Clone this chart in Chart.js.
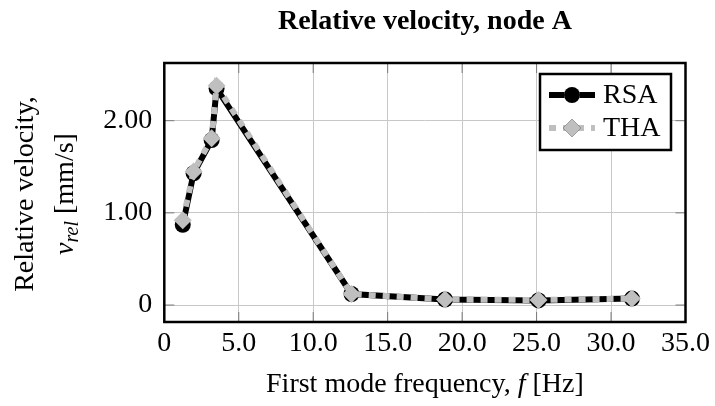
<!DOCTYPE html>
<html>
<head>
<meta charset="utf-8">
<script src="https://cdn.jsdelivr.net/npm/chart.js@4.4.1/dist/chart.umd.min.js"></script>
<style>
  html, body { margin: 0; padding: 0; background: #ffffff; }
  #wrap { width: 715px; height: 406px; }
</style>
</head>
<body>
<div id="wrap"><canvas id="c" width="715" height="406"></canvas></div>
<script>
// ---- data ----
const frequencies = [1.24, 1.97, 3.18, 3.51, 12.57, 18.85, 25.13, 31.4];
const rsaValues   = [0.87, 1.43, 1.79, 2.35, 0.12, 0.06, 0.05, 0.07];
const thaValues   = [0.92, 1.45, 1.81, 2.38, 0.12, 0.06, 0.055, 0.07];
const seriesNames = ['RSA', 'THA'];
const xTickValues = [0, 5, 10, 15, 20, 25, 30, 35];
const xTickLabels = ['0', '5.0', '10.0', '15.0', '20.0', '25.0', '30.0', '35.0'];
const yTickValues = [0, 1, 2];
const yTickLabels = ['0', '1.00', '2.00'];
const chartTitle = 'Relative velocity, node A';

const SERIF = "'Liberation Serif', 'Times New Roman', serif";
const FS = 28;

function toPoints(xs, ys) { return xs.map((x, i) => ({ x: x, y: ys[i] })); }

const decoPlugin = {
  id: 'deco',
  beforeDatasetsDraw(chart) {
    const { ctx, chartArea: a, scales: { x, y } } = chart;
    ctx.save();
    ctx.strokeStyle = '#7a7a7a';
    ctx.lineWidth = 1;
    ctx.beginPath();
    x.ticks.forEach(t => {
      const px = x.getPixelForValue(t.value);
      ctx.moveTo(px, a.bottom); ctx.lineTo(px, a.bottom - 10);
      ctx.moveTo(px, a.top); ctx.lineTo(px, a.top + 10);
    });
    y.ticks.forEach(t => {
      const py = y.getPixelForValue(t.value);
      ctx.moveTo(a.left, py); ctx.lineTo(a.left + 10, py);
      ctx.moveTo(a.right, py); ctx.lineTo(a.right - 10, py);
    });
    ctx.stroke();
    ctx.restore();
  },
  afterDatasetsDraw(chart) {
    const { ctx, chartArea: a } = chart;
    ctx.save();
    // frame
    ctx.strokeStyle = '#000';
    ctx.lineWidth = 2.5;
    ctx.strokeRect(a.left, a.top, a.right - a.left, a.bottom - a.top);

    // legend
    const lx = 540, ly = 74, lw = 131, lh = 76;
    ctx.fillStyle = '#fff';
    ctx.fillRect(lx, ly, lw, lh);
    ctx.lineWidth = 2.5;
    ctx.strokeStyle = '#000';
    ctx.strokeRect(lx, ly, lw, lh);

    const ds = chart.data.datasets;
    const rows = [95, 128];
    ds.forEach((d, i) => {
      const cy = rows[i];
      const x0 = 549, x1 = 595, cx = 572;
      ctx.save();
      ctx.beginPath();
      ctx.rect(lx + 2, ly + 2, lw - 4, lh - 4);
      ctx.clip();
      ctx.strokeStyle = d.borderColor;
      ctx.lineWidth = d.borderWidth;
      ctx.setLineDash(d.borderDash || []);
      ctx.lineDashOffset = 0;
      ctx.beginPath();
      ctx.moveTo(x0, cy); ctx.lineTo(x1, cy);
      ctx.stroke();
      ctx.setLineDash([]);
      ctx.restore();
      Chart.helpers.drawPoint(ctx, {
        pointStyle: d.pointStyle, radius: d.pointRadius, borderWidth: 0, rotation: 0
      }, cx, cy);
      ctx.fillStyle = d.pointBackgroundColor;
      ctx.fill();
      ctx.fillStyle = '#000';
      ctx.font = FS + 'px ' + SERIF;
      ctx.textBaseline = 'middle';
      ctx.textAlign = 'left';
      ctx.fillText(d.label, 603, cy + 0.5);
    });
    ctx.restore();
  },
  afterDraw(chart) {
    const { ctx, chartArea: a } = chart;
    const cx = (a.left + a.right) / 2;
    ctx.save();
    ctx.fillStyle = '#000';
    ctx.textBaseline = 'alphabetic';

    // title
    ctx.font = 'bold ' + FS + 'px ' + SERIF;
    ctx.textAlign = 'center';
    ctx.fillText(chartTitle, cx, 29);

    // x axis title: "First mode frequency, f [Hz]"
    const up = FS + 'px ' + SERIF, it = 'italic ' + FS + 'px ' + SERIF;
    const parts = [['First mode frequency, ', up], ['f', it], [' [Hz]', up]];
    let total = 0;
    parts.forEach(p => { ctx.font = p[1]; total += ctx.measureText(p[0]).width; });
    let xx = cx - total / 2;
    ctx.textAlign = 'left';
    parts.forEach(p => { ctx.font = p[1]; ctx.fillText(p[0], xx, 392); xx += ctx.measureText(p[0]).width; });

    // y axis title (rotated, two lines)
    const cyMid = (a.top + a.bottom) / 2 + 1.5;
    ctx.translate(0, cyMid);
    ctx.rotate(-Math.PI / 2);
    ctx.font = up;
    ctx.textAlign = 'center';
    ctx.fillText('Relative velocity,', 0, 33);
    // second line: v_rel [mm/s]
    const sub = 'italic ' + Math.round(FS * 0.7) + 'px ' + SERIF;
    const p2 = [['v', it, 0], ['rel', sub, 5], [' [mm/s]', up, 0]];
    let t2 = 0;
    p2.forEach(p => { ctx.font = p[1]; t2 += ctx.measureText(p[0]).width; });
    let yy = -t2 / 2;
    ctx.textAlign = 'left';
    p2.forEach(p => { ctx.font = p[1]; ctx.fillText(p[0], yy, 73 + p[2]); yy += ctx.measureText(p[0]).width; });
    ctx.restore();
  }
};

const ctx = document.getElementById('c').getContext('2d');
new Chart(ctx, {
  type: 'line',
  data: {
    datasets: [
      {
        label: seriesNames[0],
        data: toPoints(frequencies, rsaValues),
        borderColor: '#000000',
        backgroundColor: '#000000',
        borderWidth: 6,
        pointStyle: 'circle',
        pointRadius: 8,
        pointBorderWidth: 0,
        pointBackgroundColor: '#000000',
        tension: 0,
        order: 2
      },
      {
        label: seriesNames[1],
        data: toPoints(frequencies, thaValues),
        borderColor: '#bfbfbf',
        backgroundColor: '#bfbfbf',
        borderWidth: 6,
        borderDash: [7, 7],
        pointStyle: 'rectRot',
        pointRadius: 9,
        pointBorderWidth: 0,
        pointBackgroundColor: '#bfbfbf',
        tension: 0,
        order: 1
      }
    ]
  },
  options: {
    responsive: false,
    animation: false,
    events: [],
    layout: { padding: { left: 0, top: 63, right: 28, bottom: 0 } },
    plugins: { legend: { display: false }, title: { display: false }, tooltip: { enabled: false } },
    scales: {
      x: {
        type: 'linear',
        min: 0, max: 35,
        afterBuildTicks(s) { s.ticks = xTickValues.map(v => ({ value: v })); },
        afterFit(s) { s.height = 84; },
        grid: { color: '#c8c8c8', lineWidth: 1, drawTicks: false },
        border: { display: false },
        ticks: {
          padding: 5,
          maxRotation: 0,
          autoSkip: false,
          color: '#000',
          font: { family: SERIF, size: FS },
          callback: (v, i) => xTickLabels[i]
        }
      },
      y: {
        type: 'linear',
        min: -0.184, max: 2.626,
        afterBuildTicks(s) { s.ticks = yTickValues.map(v => ({ value: v })); },
        afterFit(s) { s.width = 164.3; },
        grid: { color: '#c8c8c8', lineWidth: 1, drawTicks: false },
        border: { display: false },
        ticks: {
          padding: 12,
          autoSkip: false,
          color: '#000',
          font: { family: SERIF, size: FS },
          callback: (v, i) => yTickLabels[i]
        }
      }
    }
  },
  plugins: [decoPlugin]
});
</script>
</body>
</html>
